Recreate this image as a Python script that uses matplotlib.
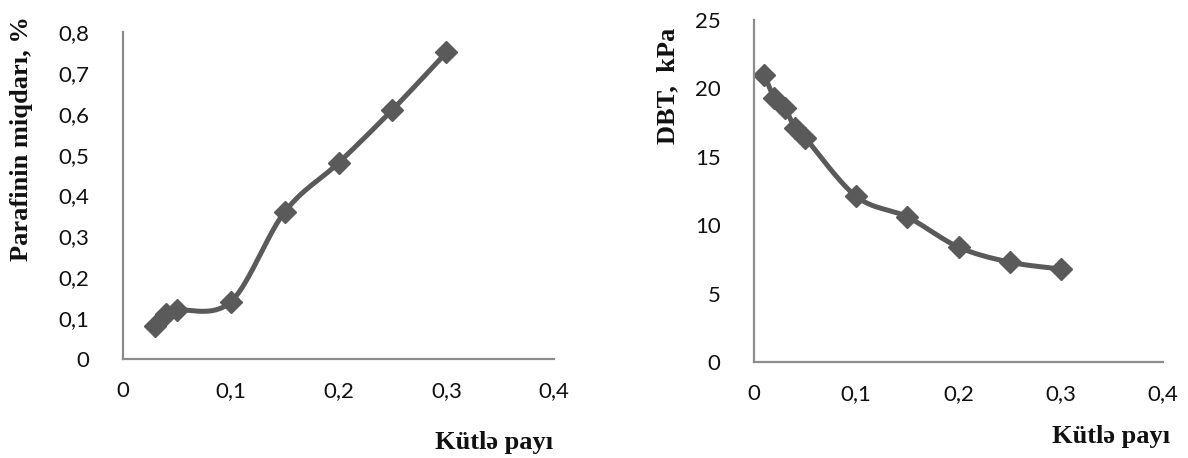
import numpy as np
import matplotlib
matplotlib.use("Agg")
import matplotlib.pyplot as plt

# Left panel: paraffin content vs mass fraction
mass_left = [0.03, 0.04, 0.05, 0.10, 0.15, 0.20, 0.25, 0.30]
paraffin = [0.08, 0.11, 0.12, 0.14, 0.36, 0.48, 0.61, 0.75]

# Right panel: DBT vs mass fraction
mass_right = [0.01, 0.02, 0.03, 0.04, 0.05, 0.10, 0.15, 0.20, 0.25, 0.30]
dbt = [21.0, 19.3, 18.6, 17.1, 16.4, 12.1, 10.6, 8.4, 7.3, 6.8]

x_ticks = [0, 0.1, 0.2, 0.3, 0.4]
x_ticklabels = ["0", "0,1", "0,2", "0,3", "0,4"]
y_ticks_left = [0, 0.1, 0.2, 0.3, 0.4, 0.5, 0.6, 0.7, 0.8]
y_ticklabels_left = ["0", "0,1", "0,2", "0,3", "0,4", "0,5", "0,6", "0,7", "0,8"]
y_ticks_right = [0, 5, 10, 15, 20, 25]
y_ticklabels_right = ["0", "5", "10", "15", "20", "25"]

LINE = "#5a5a5a"
AXIS = "#8c8c8c"
TICKFONT = "Lato"
LABELFONT = "Liberation Serif"

fig = plt.figure(figsize=(11.88, 4.58), dpi=100)


def smooth_curve(ax, xs, ys, n=40):
    """Catmull-Rom style smoothing computed in display space."""
    pts = ax.transData.transform(np.column_stack([xs, ys]))
    out = [pts[0]]
    m = len(pts)
    for i in range(m - 1):
        p0 = pts[i - 1] if i > 0 else pts[i]
        p1 = pts[i]
        p2 = pts[i + 1]
        p3 = pts[i + 2] if i + 2 < m else pts[i + 1]
        c1 = p1 + (p2 - p0) / 6.0
        c2 = p2 - (p3 - p1) / 6.0
        t = np.linspace(0, 1, n)[1:, None]
        seg = ((1 - t) ** 3) * p1 + 3 * ((1 - t) ** 2) * t * c1 + 3 * (1 - t) * t ** 2 * c2 + t ** 3 * p2
        out.extend(seg)
    out = np.array(out)
    return ax.transData.inverted().transform(out)


def style_axes(ax, yticks, ylabels, ylim):
    ax.set_xlim(0, 0.4)
    ax.set_ylim(*ylim)
    for s in ["top", "right"]:
        ax.spines[s].set_visible(False)
    for s in ["left", "bottom"]:
        ax.spines[s].set_color(AXIS)
        ax.spines[s].set_linewidth(1.6)
    ax.set_xticks(x_ticks)
    ax.set_xticklabels(x_ticklabels, fontfamily=TICKFONT, fontsize=16, color="#111111")
    ax.set_yticks(yticks)
    ax.set_yticklabels(ylabels, fontfamily=TICKFONT, fontsize=16, color="#111111")
    ax.tick_params(axis="both", length=0)
    ax.tick_params(axis="y", pad=24)
    ax.tick_params(axis="x", pad=16)
    ax.patch.set_visible(False)


ax1 = fig.add_axes([0.1035, 0.216, 0.363, 0.714])
style_axes(ax1, y_ticks_left, y_ticklabels_left, (0, 0.8))
ax2 = fig.add_axes([0.6347, 0.2096, 0.3443, 0.7467])
style_axes(ax2, y_ticks_right, y_ticklabels_right, (0, 25))

for ax, xs, ys in [(ax1, mass_left, paraffin), (ax2, mass_right, dbt)]:
    curve = smooth_curve(ax, xs, ys)
    ax.plot(curve[:, 0], curve[:, 1], color=LINE, lw=3.6, solid_capstyle="round", clip_on=False)
    ax.plot(xs, ys, linestyle="none", marker="D", markersize=11.5, color=LINE, clip_on=False)

lab = dict(fontfamily=LABELFONT, fontweight="bold", fontsize=19, color="#111111")
fig.text(494 / 1188, 1 - 443 / 458, "Kütlə payı", ha="center", va="center", **lab)
fig.text(1111 / 1188, 1 - 437 / 458, "Kütlə payı", ha="center", va="center", **lab)
fig.text(22 / 1188, 1 - 139 / 458, "Parafinin miqdarı, %", rotation=90, ha="center", va="center", **lab)
fig.text(668 / 1188, 1 - 86 / 458, "DBT,  kPa", rotation=90, ha="center", va="center", **lab)

fig.savefig("out.png", dpi=100)
